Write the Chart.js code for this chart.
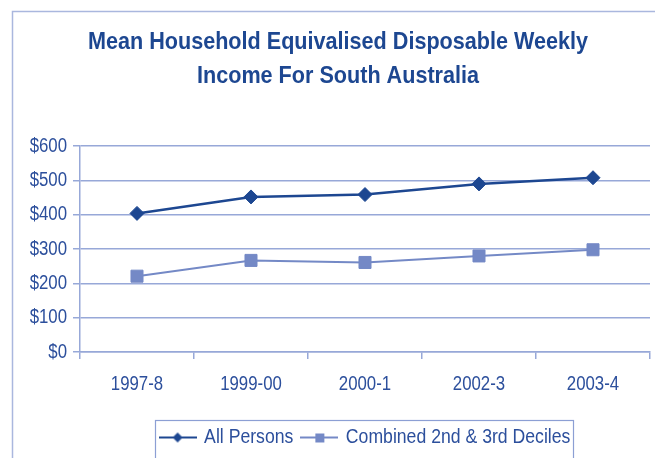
<!DOCTYPE html>
<html>
<head>
<meta charset="utf-8">
<script src="https://cdn.jsdelivr.net/npm/chart.js@4/dist/chart.umd.min.js"></script>
<style>
  html, body { margin: 0; padding: 0; background: #ffffff; }
  #wrap { width: 655px; height: 458px; position: relative; }
</style>
</head>
<body>
<div id="wrap"><canvas id="c" width="655" height="458"></canvas></div>
<script>
// Survey years
const years = ['1997-8', '1999-00', '2000-1', '2002-3', '2003-4'];
// Mean weekly equivalised disposable income ($)
const allPersons = [404, 452, 459, 490, 508];
const deciles2and3 = [221, 267, 261, 280, 298];
// Axis labels
const yTicks = [0, 100, 200, 300, 400, 500, 600];
const titleLines = ['Mean Household Equivalised Disposable Weekly', 'Income For South Australia'];

const NAVY = '#1d4791';
const LIGHT = '#7489c6';
const GRID = '#97a8d8';
const TEXT = '#2c4f9c';
const FONT = '"Liberation Sans", Arial, sans-serif';

const canvas = document.getElementById('c');
const ctx2d = canvas.getContext('2d');

// Narrow lettering: squeeze glyphs horizontally (bold text a little less)
(function narrowText(ctx) {
  const fill = ctx.fillText.bind(ctx);
  const measure = ctx.measureText.bind(ctx);
  const squeeze = () => (/bold/.test(ctx.font) ? 0.9 : 0.84);
  ctx.fillText = function (t, x, y, maxW) {
    const w = measure(t).width * squeeze();
    fill(t, x, y, maxW !== undefined ? Math.min(maxW, w) : w);
  };
  ctx.measureText = function (t) {
    const m = measure(t);
    const k = squeeze();
    return {
      width: m.width * k,
      actualBoundingBoxLeft: m.actualBoundingBoxLeft * k,
      actualBoundingBoxRight: m.actualBoundingBoxRight * k,
      actualBoundingBoxAscent: m.actualBoundingBoxAscent,
      actualBoundingBoxDescent: m.actualBoundingBoxDescent,
      fontBoundingBoxAscent: m.fontBoundingBoxAscent,
      fontBoundingBoxDescent: m.fontBoundingBoxDescent
    };
  };
})(ctx2d);

// Legend swatch: short line with the series marker in the middle
function swatch(color, shape, lw) {
  const cv = document.createElement('canvas');
  cv.width = 38; cv.height = 14;
  const g = cv.getContext('2d');
  g.strokeStyle = color; g.lineWidth = lw;
  g.beginPath(); g.moveTo(0, 7); g.lineTo(38, 7); g.stroke();
  g.fillStyle = color;
  g.beginPath();
  if (shape === 'diamond') {
    g.moveTo(19, 2); g.lineTo(24, 7); g.lineTo(19, 12); g.lineTo(14, 7);
  } else {
    g.rect(15, 3, 9, 9);
  }
  g.closePath(); g.fill();
  return cv;
}

const LEGEND_SHIFT = 36;
const TITLE_SHIFT = 8;

// Outer frame, legend box, and title/legend nudged right of centre
const framePlugin = {
  id: 'frame',
  afterLayout(chart) {
    const lg = chart.legend;
    if (lg) { lg.left += LEGEND_SHIFT; lg.right += LEGEND_SHIFT; }
    const tb = chart.titleBlock;
    if (tb) { tb.left += TITLE_SHIFT; tb.right += TITLE_SHIFT; }
  },
  beforeDraw(chart) {
    const ctx = chart.ctx;
    ctx.save();
    ctx.strokeStyle = '#aab7de';
    ctx.lineWidth = 1.5;
    ctx.strokeRect(12.5, 11.5, 700, 500);
    ctx.restore();
  },
  afterDraw(chart) {
    const ctx = chart.ctx;
    ctx.save();
    ctx.strokeStyle = '#8c9fd4';
    ctx.lineWidth = 1.2;
    ctx.strokeRect(155.5, 420.5, 418, 60);
    ctx.restore();
  }
};

new Chart(canvas, {
  type: 'line',
  data: {
    labels: years,
    datasets: [
      {
        label: 'All Persons',
        data: allPersons,
        borderColor: NAVY,
        backgroundColor: NAVY,
        borderWidth: 2.5,
        pointStyle: 'rectRot',
        pointRadius: 7,
        pointHoverRadius: 7,
        pointBackgroundColor: NAVY,
        pointBorderColor: NAVY,
        pointBorderWidth: 1,
        tension: 0
      },
      {
        label: 'Combined 2nd & 3rd Deciles',
        data: deciles2and3,
        borderColor: LIGHT,
        backgroundColor: LIGHT,
        borderWidth: 2,
        pointStyle: 'rect',
        pointRadius: 8.5,
        pointHoverRadius: 8.5,
        pointBackgroundColor: LIGHT,
        pointBorderColor: LIGHT,
        pointBorderWidth: 1,
        tension: 0
      }
    ]
  },
  options: {
    responsive: false,
    animation: false,
    devicePixelRatio: 1,
    layout: { autoPadding: false, padding: { left: 10, right: 5, top: 0, bottom: 0 } },
    plugins: {
      tooltip: { enabled: false },
      title: {
        display: true,
        text: titleLines,
        color: NAVY,
        font: { family: FONT, size: 24, weight: 'bold', lineHeight: 1.42 },
        padding: { top: 25, bottom: 53 }
      },
      legend: {
        display: true,
        position: 'bottom',
        labels: {
          color: TEXT,
          font: { family: FONT, size: 21 },
          usePointStyle: true,
          pointStyleWidth: 32,
          padding: 10,
          generateLabels(chart) {
            return chart.data.datasets.map((ds, i) => ({
              text: ds.label,
              fontColor: TEXT,
              pointStyle: swatch(ds.borderColor, i === 0 ? 'diamond' : 'square', 2),
              lineWidth: 0,
              strokeStyle: 'transparent',
              fillStyle: ds.borderColor,
              datasetIndex: i,
              hidden: false
            }));
          }
        }
      }
    },
    scales: {
      x: {
        offset: true,
        afterFit(scale) { scale.height = 65; },
        grid: {
          offset: true,
          drawOnChartArea: true,
          color: (c) => (c.index === years.length ? GRID : 'rgba(0,0,0,0)'),
          tickColor: GRID,
          tickLength: 7,
          lineWidth: 1.5
        },
        border: { display: true, color: GRID, width: 1.5 },
        ticks: { color: TEXT, font: { family: FONT, size: 20 }, padding: 13 }
      },
      y: {
        min: 0,
        max: 600,
        afterFit(scale) { scale.width = 70; },
        afterBuildTicks(scale) { scale.ticks = yTicks.map(v => ({ value: v })); },
        grid: { color: GRID, lineWidth: 1.5, tickLength: 7, tickColor: GRID },
        border: { display: true, color: GRID, width: 1.5 },
        ticks: {
          color: TEXT,
          font: { family: FONT, size: 20 },
          padding: 6,
          callback: (v) => '$' + v
        }
      }
    }
  },
  plugins: [framePlugin]
});
</script>
</body>
</html>
